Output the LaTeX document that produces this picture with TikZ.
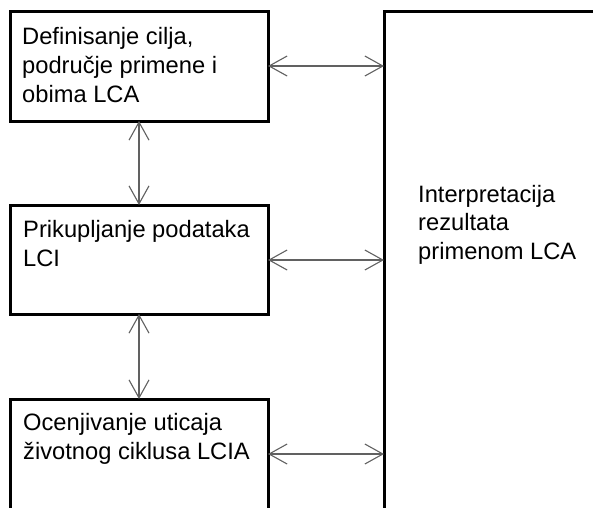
\documentclass[tikz,border=0pt]{standalone}
\usepackage{fontspec}
\setmainfont{Liberation Sans}
\usetikzlibrary{arrows.meta}
\begin{document}
\begin{tikzpicture}[x=1pt,y=-1pt,
  box/.style={draw=black,line width=3pt,outer sep=0pt,inner sep=0pt,anchor=north west},
  lbl/.style={anchor=north west,inner sep=0pt,align=left,font=\fontsize{23.7}{29}\selectfont},
  link/.style={draw=black!62,line width=1.1pt,
    {Straight Barb[length=18pt,width=20pt,line width=1.1pt]}-{Straight Barb[length=18pt,width=20pt,line width=1.1pt]}}]
\useasboundingbox (0,0) rectangle (593,507);
\clip (0,0) rectangle (593,507);
\fill[white] (0,0) rectangle (593,507);
% boxes
\node[box, minimum width=258pt, minimum height=110pt] (b1) at (10,11) {};
\node[box, minimum width=258pt, minimum height=109pt] (b2) at (10,205) {};
\node[box, minimum width=258pt, minimum height=160pt] (b3) at (10,399) {};
\node[box, minimum width=260pt, minimum height=560pt] (r) at (384,11) {};
% texts
\node[lbl] (t1) at (22,27) {Definisanje cilja,\\područje primene i\\obima LCA};
\node[lbl] (t2) at (23,220) {Prikupljanje podataka\\LCI};
\node[lbl] (t3) at (23,413) {Ocenjivanje uticaja\\životnog ciklusa LCIA};
\node[lbl,font=\fontsize{23.7}{28.5}\selectfont] (t4) at (418,185) {Interpretacija\\rezultata\\primenom LCA};
% connectors
\coordinate (a1) at (268,66);
\coordinate (a2) at (268,260);
\coordinate (a3) at (268,454);
\draw[link] (a1) -- (a1 -| r.west);
\draw[link] (a2) -- (a2 -| r.west);
\draw[link] (a3) -- (a3 -| r.west);
\draw[link] (b1.south) -- (b2.north);
\draw[link] (b2.south) -- (b3.north);
\end{tikzpicture}
\end{document}
